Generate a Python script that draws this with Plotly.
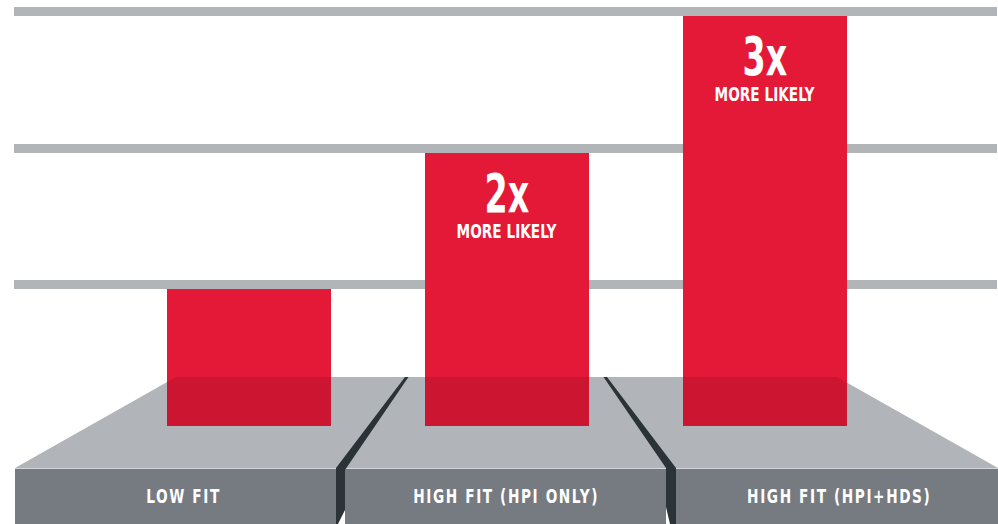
import plotly.graph_objects as go

# ---- data ----
categories = ["LOW FIT", "HIGH FIT (HPI ONLY)", "HIGH FIT (HPI+HDS)"]
likelihood = [1, 2, 3]
multiplier_labels = ["", "2x", "3x"]
sub_labels = ["", "MORE LIKELY", "MORE LIKELY"]
grid_values = [1, 2, 3]

# ---- layout geometry (pixels) ----
W_FIG, H_FIG = 998, 524
ML, MR, MT, MB = 14, 1, 0, 0
PW, PH = W_FIG - ML - MR, H_FIG - MT - MB

def px(x):
    return (x - ML) / PW

def py(y):
    return 1 - (y - MT) / PH

def poly(pts):
    return "M " + " L ".join(f"{px(x):.5f},{py(y):.5f}" for x, y in pts) + " Z"

RED = "#e41937"
GRID = "#b1b5b8"
TOP_BASE = "#c6cace"
FRONT = "#767b81"
DARK = "#2c3338"
FONT = "DejaVu Sans Condensed, DejaVu Sans, sans-serif"

y_range = [-0.717, 3.117]
x_range = [-0.910, 2.900]
grid_w = 9
units_per_px = (y_range[1] - y_range[0]) / PH

fig = go.Figure()
fig.add_trace(go.Bar(
    x=list(range(len(categories))), y=likelihood, width=0.6357,
    marker=dict(color=RED, line=dict(width=0)),
    hoverinfo="skip", showlegend=False,
))

shapes = []
# platform top face (below traces)
top_face = [(176, 377), (837, 377), (998, 468), (15, 468)]
shapes.append(dict(type="path", path=poly(top_face), xref="paper", yref="paper",
                   fillcolor=TOP_BASE, line=dict(width=0), layer="below"))
# front faces
for x0, x1 in [(15, 336), (345, 666), (676, 998)]:
    shapes.append(dict(type="rect", xref="paper", yref="paper",
                       x0=px(x0), x1=px(x1), y0=py(524), y1=py(468),
                       fillcolor=FRONT, line=dict(width=0), layer="below"))
    shapes.append(dict(type="line", xref="paper", yref="paper",
                       x0=px(x0), x1=px(x1), y0=py(468.5), y1=py(468.5),
                       line=dict(color="#d3d6d8", width=1.2), layer="below"))
# darkening overlay over the top face (bars sink into platform)
shapes.append(dict(type="path", path=poly(top_face), xref="paper", yref="paper",
                   fillcolor="rgba(0,0,0,0.10)", line=dict(width=0), layer="above"))
# dark separators
seps = [
    [(405, 377), (408.5, 377), (345, 470), (345, 510), (338, 524), (336, 524), (336, 468)],
    [(603.5, 377), (607, 377), (676, 468), (676, 524), (670, 524), (666, 507), (666, 468)],
]
for s in seps:
    shapes.append(dict(type="path", path=poly(s), xref="paper", yref="paper",
                       fillcolor=DARK, line=dict(width=0), layer="above"))

annotations = []
label_cx = [183.5, 506, 839]
for cat, cx in zip(categories, label_cx):
    annotations.append(dict(
        x=px(cx), y=py(495.5), xref="paper", yref="paper",
        text=f'<span style="letter-spacing:2px">{cat}</span>',
        showarrow=False, xanchor="center", yanchor="middle",
        font=dict(family=FONT, size=19, color="white", weight="bold"),
    ))
for i, (v, m, s) in enumerate(zip(likelihood, multiplier_labels, sub_labels)):
    if m:
        annotations.append(dict(
            x=i, y=v, xref="x", yref="y", text=m, showarrow=False,
            xanchor="center", yanchor="middle", yshift=-41,
            font=dict(family=FONT, size=53, color="white", weight="bold"),
        ))
    if s:
        annotations.append(dict(
            x=i, y=v, xref="x", yref="y", text=s, showarrow=False,
            xanchor="center", yanchor="middle", yshift=-78.5,
            font=dict(family=FONT, size=19, color="white", weight="bold"),
        ))

fig.update_layout(
    width=W_FIG, height=H_FIG,
    margin=dict(l=ML, r=MR, t=MT, b=MB, pad=0),
    paper_bgcolor="white", plot_bgcolor="rgba(0,0,0,0)",
    bargap=0,
    shapes=shapes, annotations=annotations,
    xaxis=dict(range=x_range, showgrid=False, zeroline=False,
               showticklabels=False, ticks="", fixedrange=True),
    yaxis=dict(range=y_range, showgrid=True, gridcolor=GRID, gridwidth=grid_w,
               tickvals=[v + grid_w / 2 * units_per_px for v in grid_values],
               zeroline=False, showticklabels=False, ticks="", fixedrange=True),
    showlegend=False,
)

post = """
document.body.style.margin = '0';
document.body.style.overflow = 'hidden';
var gd = document.getElementById('{plot_id}');
function condense() {
  document.querySelectorAll('.annotation-text').forEach(function (t) {
    var fs = parseFloat(t.style.fontSize) || 0;
    t.style.transformBox = 'fill-box';
    t.style.transformOrigin = 'center';
    t.style.transform = 'scaleX(' + (fs > 40 ? 0.7 : 0.8) + ')';
  });
}
condense();
if (gd && gd.on) { gd.on('plotly_afterplot', condense); }
"""

fig.write_html("out.html", config={"displayModeBar": False}, post_script=post)
